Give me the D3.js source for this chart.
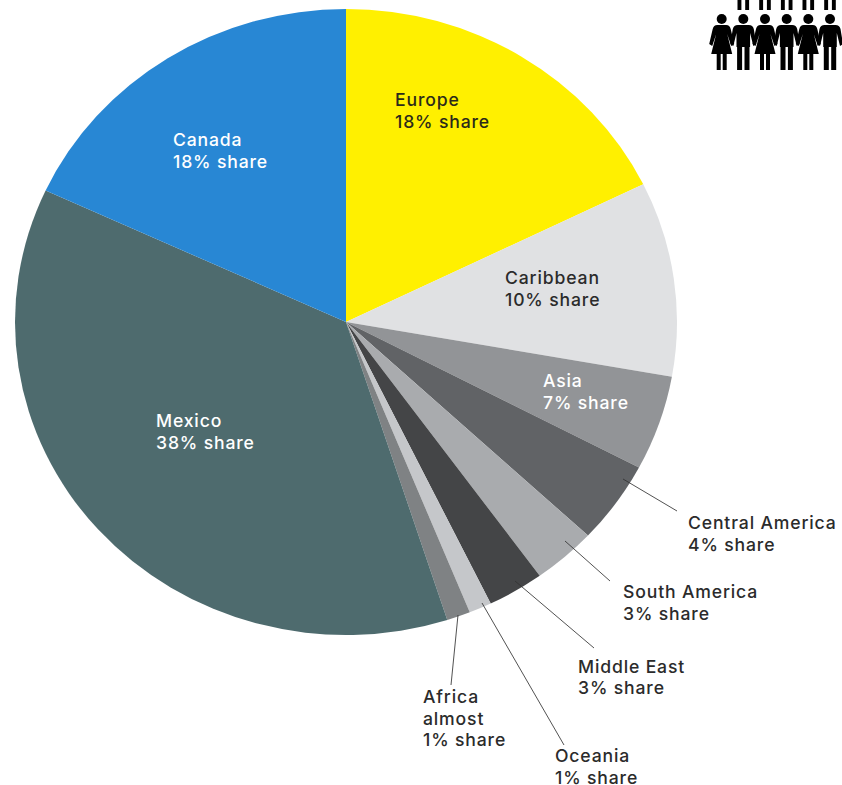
<!DOCTYPE html>
<html><head><meta charset="utf-8">
<script src="https://cdn.jsdelivr.net/npm/d3@7/dist/d3.min.js"></script>
<style>html,body{margin:0;padding:0;background:#fff}svg{display:block}
text{font-family:Inter,"Noto Sans",sans-serif;font-weight:500;font-size:17.6px;letter-spacing:.85px}</style></head>
<body><svg id="c" width="842" height="785"></svg>
<script>
const categories=["Europe","Caribbean","Asia","Central America","South America","Middle East","Oceania","Africa","Mexico","Canada"];
const sliceValues=[17.75,10.05,4.9,4.25,3.1,2.75,1.1,1.15,36.85,18.1];
const sliceColors=["#fff000","#e0e1e3","#929497","#616366","#a9abae","#444547","#c5c7ca","#7f8284","#4e6b6e","#2887d4"];
const shareLabels=["18% share","10% share","7% share","4% share","3% share","3% share","1% share","1% share","38% share","18% share"];
const qualifiers=["","","","","","","","almost","",""];
const textColors=["#2b2a1a","#2b2b2b","#fff","#2b2b2b","#2b2b2b","#2b2b2b","#2b2b2b","#2b2b2b","#fff","#fff"];
const labelX=[395,505,543,688,623,578,555,423,156,173];
const labelY=[106,284,387,529,598,672.5,762,703,427,146];
const leaders=[null,null,null,[623,479,677,511],[565,541,610,581],[515,581,594,648],[482,603,564,745],[458,615,451,685],null,null];
const svg=d3.select("#c");
const cx=346,cy=322,rx=331,ry=313;
const pie=d3.pie().sort(null)(sliceValues);
const arc=d3.arc().innerRadius(0).outerRadius(ry);
svg.append("g").attr("transform",`translate(${cx},${cy}) scale(${rx/ry},1)`)
 .selectAll("path").data(pie).join("path").attr("d",arc).attr("fill",(d,i)=>sliceColors[i]);
svg.append("g").selectAll("line").data(leaders.filter(Boolean)).join("line")
 .attr("x1",d=>d[0]).attr("y1",d=>d[1]).attr("x2",d=>d[2]).attr("y2",d=>d[3])
 .attr("stroke","#333").attr("stroke-width",.85);
const lh=21.6;
categories.forEach((c,i)=>{
 const lines=[c]; if(qualifiers[i])lines.push(qualifiers[i]); lines.push(shareLabels[i]);
 lines.forEach((t,j)=>svg.append("text").attr("x",labelX[i]).attr("y",labelY[i]+j*lh).attr("fill",textColors[i]).text(t));
});
// pictogram
const personCenters=[721.7,743.3,765,786.7,808.3,830];
const woman="M-4.5,25 L4.5,25 Q8,25 9,29 L12.5,44 L9.5,46 L5.5,34 L10.5,54 L5,54 L5,70 L1,70 L1,54 L-1,54 L-1,70 L-5,70 L-5,54 L-10.5,54 L-5.5,34 L-9.5,46 L-12.5,44 L-9,29 Q-8,25 -4.5,25Z";
const man="M-5.5,25 L5.5,25 Q9.5,25 10.5,29 L13,44 L10,46 L6.8,33 L6.8,47 L6.2,47 L6.2,70 L1.2,70 L1.2,47 L-1.2,47 L-1.2,70 L-6.2,70 L-6.2,47 L-6.8,47 L-6.8,33 L-10,46 L-13,44 L-10.5,29 Q-9.5,25 -5.5,25Z";
const ig=svg.append("g").attr("fill","#000");
personCenters.forEach((x,i)=>{
 const g=ig.append("g").attr("transform",`translate(${x},0)`);
 g.append("circle").attr("cy",19).attr("r",5);
 g.append("path").attr("d",i%2?man:woman);
 if(i>0){[-5.8,1.9].forEach(o=>g.append("rect").attr("x",o).attr("y",0).attr("width",3.9).attr("height",10));}
});
</script></body></html>
